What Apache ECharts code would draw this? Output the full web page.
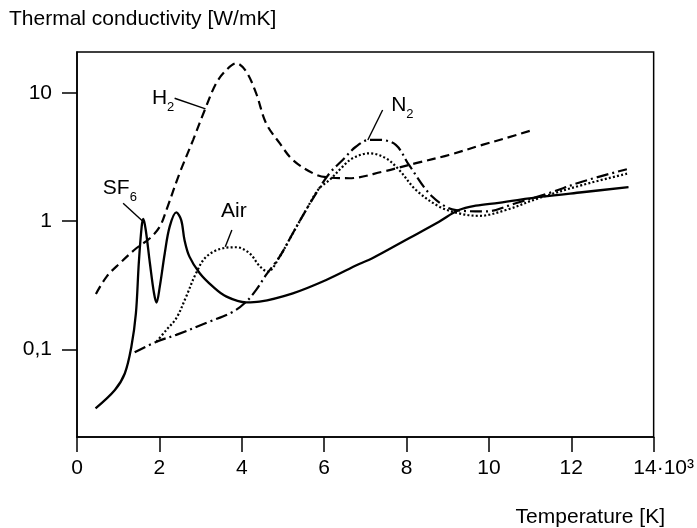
<!DOCTYPE html>
<html>
<head>
<meta charset="utf-8">
<script src="https://cdn.jsdelivr.net/npm/echarts@6/dist/echarts.min.js"></script>
<style>
  html, body { margin: 0; padding: 0; background: #fff; }
  #chart { width: 697px; height: 528px; }
</style>
</head>
<body>
<div id="chart"></div>
<script>
// 温度单位：10^3 K；导热系数：W/mK
var sf6Temp = [0.45, 0.92, 1.16, 1.32, 1.43, 1.50, 1.57, 1.61, 1.67, 1.77, 1.87, 1.93, 2.01, 2.13, 2.25, 2.41, 2.53, 2.61, 2.73, 2.98, 3.30, 3.63, 4.11, 4.43, 5.24, 6.05, 6.85, 7.17, 8.06, 8.79, 9.27, 9.68, 10.24, 11.29, 12.26, 13.39];
var sf6K = [0.0348, 0.0484, 0.065, 0.105, 0.191, 0.47, 0.906, 1.04, 0.85, 0.47, 0.274, 0.232, 0.309, 0.56, 0.906, 1.17, 1.02, 0.714, 0.529, 0.393, 0.309, 0.258, 0.233, 0.236, 0.274, 0.348, 0.464, 0.514, 0.736, 0.99, 1.22, 1.32, 1.39, 1.55, 1.68, 1.84];

var h2Temp = [0.46, 0.72, 1.04, 1.44, 1.77, 2.01, 2.17, 2.49, 2.82, 3.12, 3.38, 3.63, 3.87, 4.11, 4.35, 4.59, 4.92, 5.24, 5.73, 6.05, 6.61, 7.42, 8.23, 9.03, 9.84, 10.41, 11.01];
var h2K = [0.271, 0.37, 0.47, 0.615, 0.736, 0.906, 1.22, 2.36, 4.3, 7.6, 11.9, 15.1, 17.0, 14.6, 9.9, 5.8, 4.05, 3.0, 2.36, 2.2, 2.16, 2.43, 2.83, 3.28, 3.93, 4.43, 5.07];

var n2Temp = [1.40, 1.93, 2.41, 3.22, 3.79, 4.11, 4.35, 4.59, 4.92, 5.24, 5.56, 5.88, 6.13, 6.45, 6.77, 7.10, 7.34, 7.74, 8.06, 8.63, 9.20, 9.92, 10.65, 11.45, 12.26, 13.35];
var n2K = [0.095, 0.115, 0.13, 0.165, 0.197, 0.236, 0.291, 0.381, 0.529, 0.805, 1.22, 1.80, 2.36, 3.0, 3.8, 4.3, 4.3, 3.93, 2.74, 1.55, 1.22, 1.19, 1.38, 1.65, 2.03, 2.54];

var airTemp = [1.93, 2.17, 2.41, 2.65, 2.89, 3.14, 3.54, 3.87, 4.19, 4.43, 4.63, 4.92, 5.24, 5.56, 5.88, 6.13, 6.45, 6.69, 7.10, 7.50, 7.82, 8.23, 8.79, 9.27, 9.76, 10.41, 11.21, 12.26, 13.39];
var airK = [0.115, 0.142, 0.175, 0.258, 0.393, 0.529, 0.615, 0.626, 0.562, 0.448, 0.404, 0.529, 0.805, 1.22, 1.80, 2.09, 2.66, 3.09, 3.38, 3.09, 2.51, 1.75, 1.30, 1.15, 1.10, 1.22, 1.51, 1.91, 2.36];

var yTickValues = [0.1, 1, 10];
var yTickLabels = ['0,1', '1', '10'];

// 曲线标注（文字中心 + 引线两端，数据坐标）
var annotText = ['{m|H}{s|2}', '{m|SF}{s|6}', 'Air', '{m|N}{s|2}'];
var annotAt = [[2.09, 9.07], [1.04, 1.80], [3.81, 1.19], [7.90, 8.04]];
var leaderFrom = [[2.37, 9.07], [1.12, 1.38], [3.76, 0.853], [7.42, 7.35]];
var leaderTo = [[3.12, 7.5], [1.61, 0.99], [3.60, 0.633], [7.06, 4.29]];

(function () {
  var FONT = '"Liberation Sans", Arial, Helvetica, sans-serif';
  var INK = '#000';
  var FS = 21;

  function pairs(xs, ys) {
    return xs.map(function (x, i) { return [x, ys[i]]; });
  }

  function curve(name, xs, ys, type, width) {
    return {
      name: name,
      type: 'line',
      data: pairs(xs, ys),
      smooth: 0.35,
      showSymbol: false,
      silent: true,
      lineStyle: { color: INK, width: width, type: type, cap: 'butt' }
    };
  }

  var series = [
    curve('SF6', sf6Temp, sf6K, 'solid', 2.3),
    curve('H2', h2Temp, h2K, [9, 5], 2.2),
    curve('N2', n2Temp, n2K, [12, 4, 2, 4], 2.2),
    curve('Air', airTemp, airK, [2, 2.2], 2.2)
  ];

  leaderFrom.forEach(function (p, i) {
    series.push({
      type: 'line',
      data: [p, leaderTo[i]],
      showSymbol: false,
      silent: true,
      lineStyle: { color: INK, width: 1.4 }
    });
  });

  // scatter 默认 opacity 0.8，会让文字发灰
  series.push({
    type: 'scatter',
    symbolSize: 0.1,
    silent: true,
    itemStyle: { color: INK, opacity: 1 },
    data: annotAt.map(function (p, i) {
      return { value: p, label: { formatter: annotText[i] } };
    }),
    label: {
      show: true,
      position: 'inside',
      color: INK,
      opacity: 1,
      textBorderWidth: 0,
      fontFamily: FONT,
      fontSize: FS,
      rich: {
        m: { fontFamily: FONT, fontSize: FS, lineHeight: 31, verticalAlign: 'middle', color: INK, textBorderWidth: 0 },
        s: { fontFamily: FONT, fontSize: 13, lineHeight: 20, verticalAlign: 'bottom', color: INK, textBorderWidth: 0 }
      }
    }
  });

  var axisLine = { show: true, lineStyle: { color: INK, width: 1.5 } };

  var chart = echarts.init(document.getElementById('chart'));
  chart.setOption({
    animation: false,
    backgroundColor: '#fff',
    title: [
      {
        text: 'Thermal conductivity [W/mK]',
        left: 9, top: 9, padding: 0,
        textStyle: { fontFamily: FONT, fontSize: FS, fontWeight: 'normal', color: INK }
      },
      {
        text: 'Temperature [K]',
        right: 32, top: 507, padding: 0,
        textStyle: { fontFamily: FONT, fontSize: FS, fontWeight: 'normal', color: INK }
      }
    ],
    grid: {
      left: 77, right: 42, top: 52, bottom: 91,
      show: true, borderColor: INK, borderWidth: 1.5, backgroundColor: 'transparent'
    },
    xAxis: {
      type: 'value',
      min: 0, max: 14, interval: 2,
      axisLine: axisLine,
      axisTick: { show: true, length: 15, lineStyle: { color: INK, width: 1.5 } },
      splitLine: { show: false },
      axisLabel: {
        margin: 21,
        fontFamily: FONT, fontSize: FS, color: INK,
        formatter: function (v) {
          return v === 14 ? '{p| }14·10³' : String(v);
        },
        rich: { p: { width: 20 } }
      }
    },
    yAxis: {
      type: 'log',
      logBase: 10,
      min: 0.0208, max: 20.8,
      axisLine: axisLine,
      axisTick: { show: true, length: 15, customValues: yTickValues, lineStyle: { color: INK, width: 1.5 } },
      splitLine: { show: false },
      axisLabel: {
        customValues: yTickValues,
        margin: 25,
        fontFamily: FONT, fontSize: FS, color: INK,
        formatter: function (v) {
          var idx = Math.round(Math.log(v) / Math.LN10) + 1;
          return yTickLabels[idx] || '';
        }
      }
    },
    series: series
  });
})();
</script>
</body>
</html>
